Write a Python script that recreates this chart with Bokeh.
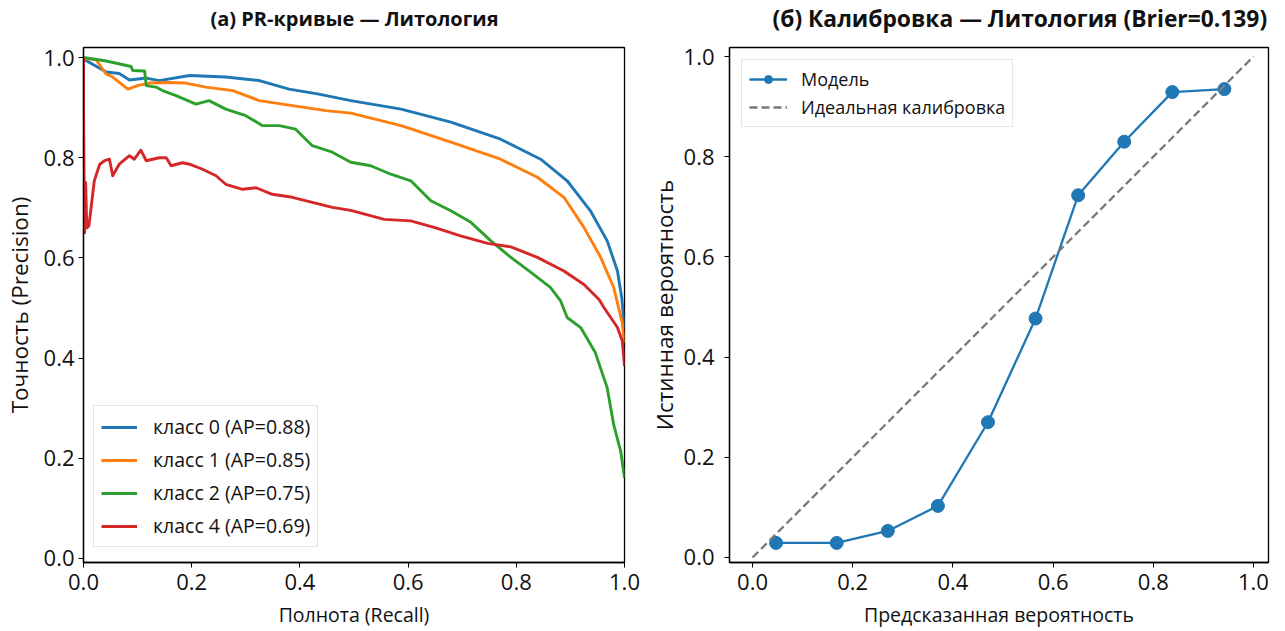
from bokeh.plotting import figure
from bokeh.layouts import row, column
from bokeh.models import Legend, LegendItem, FixedTicker, PrintfTickFormatter, Range1d
from bokeh.core.properties import value
from bokeh.embed import file_html
from bokeh.resources import INLINE

# ---- PR curves (Литология) ----
recall_0 = [0.0, 0.042, 0.066, 0.085, 0.116, 0.140, 0.196, 0.263, 0.325, 0.380,
            0.435, 0.494, 0.587, 0.679, 0.771, 0.845, 0.894, 0.937, 0.968, 0.987,
            0.995, 1.0]
precision_0 = [0.997, 0.971, 0.968, 0.955, 0.959, 0.954, 0.964, 0.961, 0.954, 0.937,
               0.927, 0.914, 0.897, 0.871, 0.837, 0.797, 0.754, 0.694, 0.634, 0.574,
               0.52, 0.46]

recall_1 = [0.0, 0.023, 0.042, 0.054, 0.082, 0.100, 0.122, 0.153, 0.189, 0.226,
            0.276, 0.325, 0.386, 0.448, 0.494, 0.587, 0.679, 0.771, 0.839, 0.888,
            0.925, 0.956, 0.980, 0.996, 1.0]
precision_1 = [0.998, 0.996, 0.967, 0.961, 0.937, 0.944, 0.949, 0.950, 0.949, 0.941,
               0.934, 0.914, 0.904, 0.894, 0.889, 0.864, 0.831, 0.797, 0.761, 0.721,
               0.661, 0.601, 0.541, 0.47, 0.43]

recall_2 = [0.0, 0.042, 0.088, 0.091, 0.113, 0.116, 0.134, 0.146, 0.171, 0.208,
            0.232, 0.263, 0.300, 0.331, 0.362, 0.392, 0.423, 0.460, 0.494, 0.531,
            0.568, 0.605, 0.642, 0.679, 0.716, 0.753, 0.790, 0.827, 0.863, 0.882,
            0.894, 0.919, 0.946, 0.968, 0.980, 0.993, 1.0]
precision_2 = [1.0, 0.993, 0.982, 0.974, 0.973, 0.944, 0.941, 0.934, 0.924, 0.907,
               0.914, 0.897, 0.884, 0.864, 0.864, 0.857, 0.824, 0.811, 0.791, 0.784,
               0.767, 0.754, 0.714, 0.694, 0.671, 0.634, 0.601, 0.571, 0.541, 0.514,
               0.481, 0.461, 0.411, 0.341, 0.267, 0.214, 0.161]

recall_4 = [0.0, 0.0, 0.002, 0.004, 0.006, 0.010, 0.014, 0.020, 0.030, 0.039,
            0.048, 0.054, 0.066, 0.085, 0.094, 0.106, 0.116, 0.140, 0.153, 0.162,
            0.183, 0.196, 0.220, 0.245, 0.263, 0.294, 0.319, 0.349, 0.386, 0.423,
            0.460, 0.494, 0.556, 0.605, 0.648, 0.697, 0.747, 0.790, 0.839, 0.888,
            0.925, 0.953, 0.962, 0.987, 0.996, 1.0]
precision_4 = [1.0, 0.90, 0.65, 0.75, 0.66, 0.664, 0.70, 0.754, 0.787, 0.794,
               0.797, 0.764, 0.787, 0.804, 0.797, 0.815, 0.794, 0.80, 0.80, 0.784,
               0.79, 0.787, 0.777, 0.764, 0.747, 0.737, 0.74, 0.727, 0.721, 0.711,
               0.701, 0.695, 0.677, 0.674, 0.661, 0.644, 0.629, 0.622, 0.601, 0.574,
               0.547, 0.517, 0.501, 0.461, 0.434, 0.384]

pr_labels = ["класс 0 (AP=0.88)", "класс 1 (AP=0.85)", "класс 2 (AP=0.75)", "класс 4 (AP=0.69)"]
pr_colors = ["#1f77b4", "#ff7f0e", "#2ca02c", "#d62728"]

# ---- Calibration ----
prob_pred = [0.047, 0.168, 0.270, 0.370, 0.470, 0.565, 0.650, 0.742, 0.838, 0.942]
prob_true = [0.029, 0.029, 0.053, 0.103, 0.270, 0.477, 0.723, 0.830, 0.929, 0.935]
ideal_x = [0.0, 1.0]
ideal_y = [0.0, 1.0]

title_left = "(a) PR-кривые — Литология"
title_right = "(б) Калибровка — Литология (Brier=0.139)"

ticks = [0.0, 0.2, 0.4, 0.6, 0.8, 1.0]
FONT = "Open Sans"
W = 1285
HEADER_H = 40
H = 631 - HEADER_H


def style(p, xlabel, ylabel):
    p.background_fill_color = "white"
    p.border_fill_color = "white"
    p.outline_line_color = "#000000"
    p.outline_line_width = 1.3
    p.xgrid.visible = False
    p.ygrid.visible = False
    for ax, lab, lsize in ((p.xaxis[0], xlabel, "19.5px"), (p.yaxis[0], ylabel, "22.5px")):
        ax.ticker = FixedTicker(ticks=ticks)
        ax.formatter = PrintfTickFormatter(format="%.1f")
        ax.axis_label = lab
        ax.axis_label_text_font = FONT
        ax.axis_label_text_font_size = lsize
        ax.axis_label_text_font_style = "normal"
        ax.axis_label_text_color = "#111111"
        ax.major_label_text_font = FONT
        ax.major_label_text_font_size = "22px"
        ax.major_label_text_color = "#111111"
        ax.major_label_standoff = 4
        ax.minor_tick_line_color = None
        ax.major_tick_in = 0
        ax.major_tick_out = 5
        ax.major_tick_line_color = "#000000"
        ax.axis_line_color = "#000000"
        ax.axis_line_width = 1.3
    p.xaxis[0].major_label_standoff = 6
    p.xaxis[0].axis_label_standoff = 8
    p.yaxis[0].axis_label_standoff = 6


# Header strip holding the two panel titles (pixel-unit ranges)
header = figure(width=W, height=HEADER_H, output_backend="svg", toolbar_location=None,
                x_range=Range1d(0, W), y_range=Range1d(0, HEADER_H),
                x_axis_type=None, y_axis_type=None, min_border=0)
header.outline_line_color = None
header.background_fill_color = "white"
header.border_fill_color = "white"
header.xgrid.visible = False
header.ygrid.visible = False
header.text(x=[354], y=[HEADER_H - 18], text=[title_left], text_align="center",
            text_baseline="middle", text_font=value(FONT), text_font_size="20px",
            text_font_style="bold", text_color="#111111")
header.text(x=[772], y=[HEADER_H - 18], text=[title_right], text_align="left",
            text_baseline="middle", text_font=value(FONT), text_font_size="22.8px",
            text_font_style="bold", text_color="#111111")

# Left figure
p1 = figure(width=643, height=H, output_backend="svg", toolbar_location=None,
            x_range=Range1d(0.0, 1.0), y_range=Range1d(-0.008, 1.02),
            min_border_left=82, min_border_right=19, min_border_top=7, min_border_bottom=69)
style(p1, "Полнота (Recall)", "Точность (Precision)")

pr_data = [(recall_0, precision_0), (recall_1, precision_1),
           (recall_2, precision_2), (recall_4, precision_4)]
items = []
for (rx, ry), lab, col in zip(pr_data, pr_labels, pr_colors):
    r = p1.line(rx, ry, line_color=col, line_width=2.9, line_join="round")
    items.append(LegendItem(label=lab, renderers=[r]))

leg1 = Legend(items=items, location=(10, 15))
leg1.label_text_font = FONT
leg1.label_text_font_size = "19.5px"
leg1.label_text_color = "#111111"
leg1.glyph_width = 36
leg1.glyph_height = 20
leg1.label_height = 20
leg1.label_standoff = 16
leg1.spacing = 6
leg1.padding = 7
leg1.border_line_color = "#cccccc"
leg1.border_line_width = 1.2
leg1.background_fill_alpha = 0.85
p1.add_layout(leg1)

# Right figure
p2 = figure(width=642, height=H, output_backend="svg", toolbar_location=None,
            x_range=Range1d(-0.046, 1.03), y_range=Range1d(-0.01, 1.018),
            min_border_left=86, min_border_right=17, min_border_top=7, min_border_bottom=69)
style(p2, "Предсказанная вероятность", "Истинная вероятность")
p2.yaxis[0].major_label_standoff = 10
p2.yaxis[0].axis_label_standoff = 1

l_model = p2.line(prob_pred, prob_true, line_color="#1f77b4", line_width=2.3)
s_model = p2.scatter(prob_pred, prob_true, size=13, fill_color="#1f77b4", line_color="#1f77b4")
l_ideal = p2.line(ideal_x, ideal_y, line_color="#7a7a7a", line_width=2.3, line_dash="8 4")

leg2 = Legend(items=[LegendItem(label="Модель", renderers=[l_model, s_model]),
                     LegendItem(label="Идеальная калибровка", renderers=[l_ideal])],
              location="top_left")
leg2.margin = 12
leg2.label_text_font = FONT
leg2.label_text_font_size = "18px"
leg2.label_text_color = "#111111"
leg2.glyph_width = 38
leg2.glyph_height = 20
leg2.label_height = 20
leg2.label_standoff = 14
leg2.spacing = 4
leg2.padding = 7
leg2.border_line_color = "#cccccc"
leg2.border_line_width = 1.2
leg2.background_fill_alpha = 0.85
p2.add_layout(leg2)

layout = column(header, row(p1, p2))
open("out.html", "w").write(file_html(layout, INLINE))
